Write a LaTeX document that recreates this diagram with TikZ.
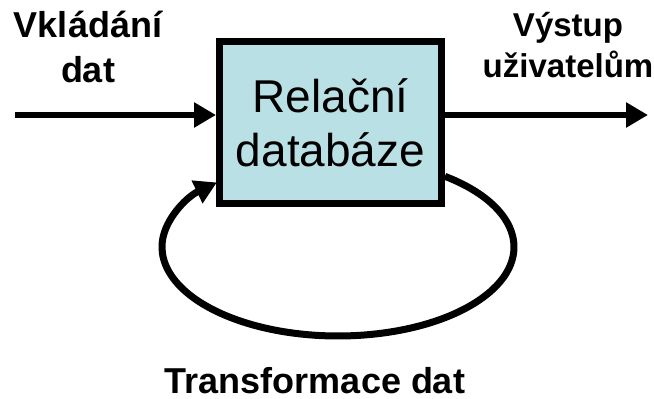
\documentclass[tikz,border=0pt]{standalone}
\usepackage{fontspec}
\setmainfont{Liberation Sans}
\usetikzlibrary{arrows.meta}
\definecolor{boxfill}{RGB}{185,224,228}
\tikzset{
  label/.style={font=\fontsize{36}{45}\selectfont\bfseries, align=center, inner sep=0pt},
  smalllabel/.style={label, font=\fontsize{33}{41}\selectfont\bfseries},
  dbbox/.style={draw=black, line width=7pt, fill=boxfill, minimum width=222pt, minimum height=162pt,
    align=center, font=\fontsize{46}{54}\selectfont, inner sep=0pt},
  flow/.style={line width=6pt, -{Triangle[length=22pt,width=24pt]}},
  cycle/.style={line width=7pt, -{Triangle[length=22pt,width=24pt]}}
}
\begin{document}
\begin{tikzpicture}[x=1pt,y=1pt]
  \useasboundingbox (0,0) rectangle (654,399);
  % feedback loop, drawn first so the box covers its ends
  \coordinate (lc) at (338,152);
  \draw[cycle] ([shift={(52.6:176pt and 89pt)}]lc)
     arc[start angle=52.6, end angle=-226.5, x radius=176pt, y radius=89pt];
  % the database
  \node[dbbox] (db) at (330.5,276.5) {Relační\\databáze};
  % input and output flows
  \coordinate (in) at (15,284);
  \coordinate (out) at (648,284);
  \draw[flow] (in) -- (in -| db.west);
  \draw[flow] (out -| db.east) -- (out);
  % labels (base anchor = baseline of the last line)
  \node[label, anchor=base] (lin) at (88,316) {Vkládání\\dat};
  \node[smalllabel, anchor=base] (lout) at (568,321) {Výstup\\uživatelům};
  \node[label, anchor=base] (lloop) at (315,5) {Transformace dat};
\end{tikzpicture}
\end{document}
